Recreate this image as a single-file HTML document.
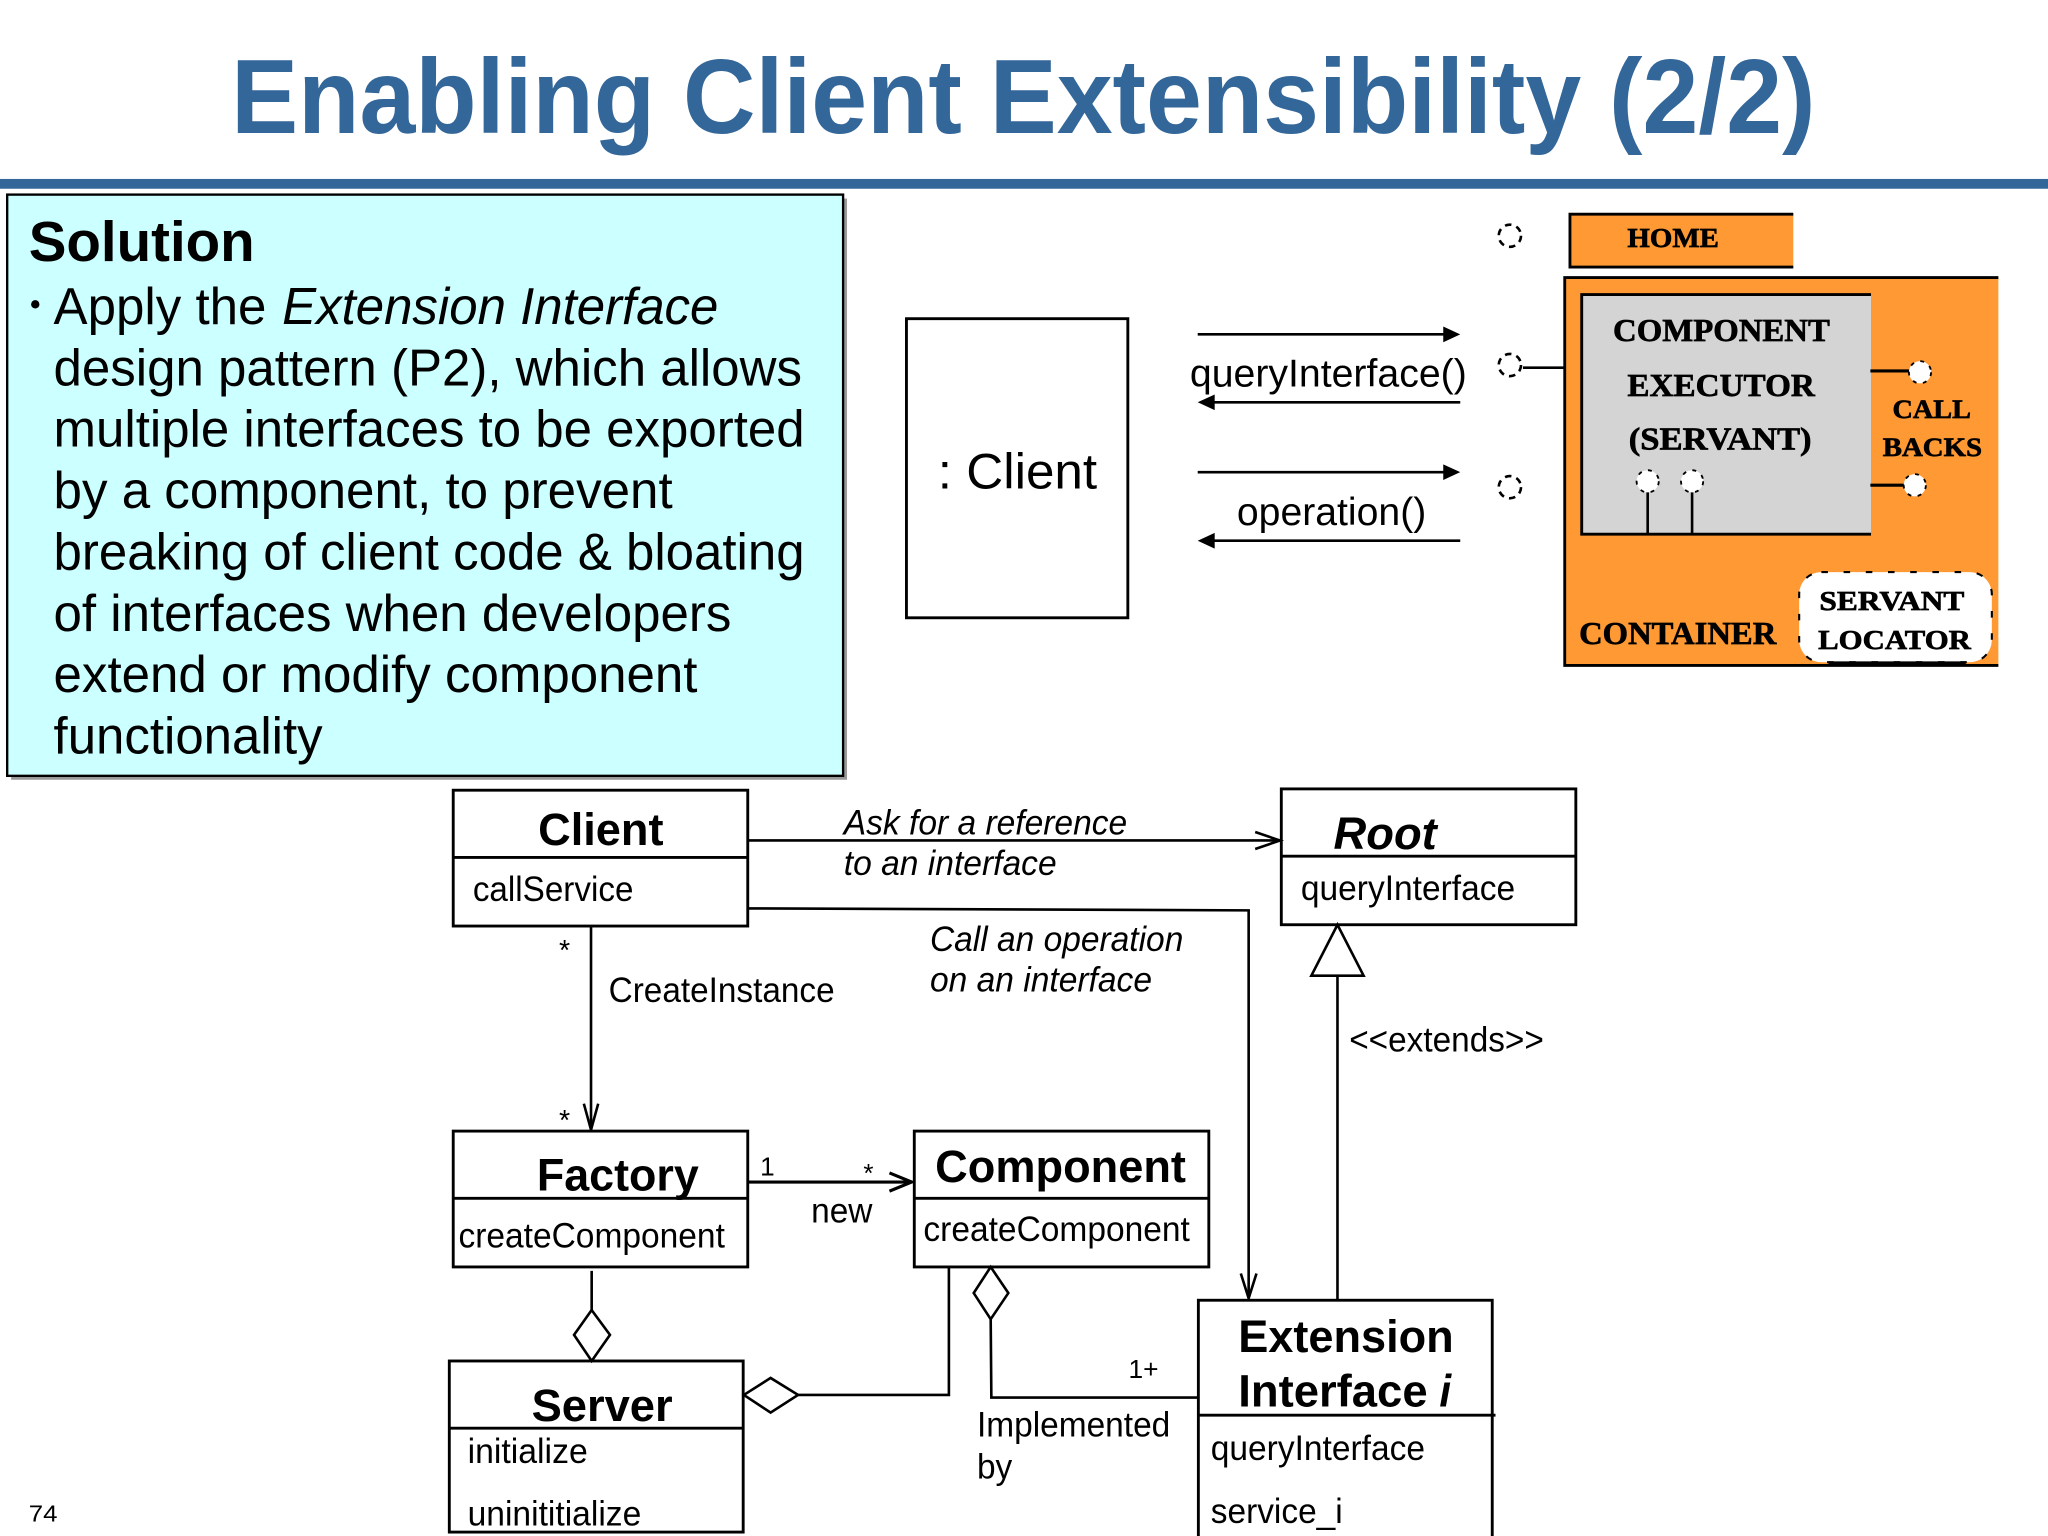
<!DOCTYPE html>
<html>
<head>
<meta charset="utf-8">
<title>Enabling Client Extensibility (2/2)</title>
<style>
html,body{margin:0;padding:0;background:#fff;width:2048px;height:1536px;overflow:hidden}
svg{display:block}
text{font-family:"Liberation Sans",sans-serif;fill:#000}
.b{font-weight:bold}
.i{font-style:italic}
.s{font-family:"Liberation Serif",serif;font-weight:bold;font-size:24px;stroke:#000;stroke-width:.5}
.m{font-size:27px}
.h{font-size:35px;font-weight:bold}
.body{font-size:40px}
.box{fill:#fff;stroke:#000;stroke-width:2.2}
.ln{fill:none;stroke:#000;stroke-width:2}
.open{fill:none;stroke:#000;stroke-width:2}
.dia{fill:#fff;stroke:#000;stroke-width:2}
.dot{fill:#fff;stroke:#000;stroke-width:1.4;stroke-dasharray:3 5}
.dot0{fill:none;stroke:#000;stroke-width:2;stroke-dasharray:5 4}
</style>
</head>
<body>
<svg xmlns="http://www.w3.org/2000/svg" width="2048" height="1536" viewBox="0 0 1568 1176">
<rect width="1568" height="1176" fill="#fff"/>
<!-- Title -->
<text x="177" y="102" font-size="81" class="b" style="fill:#336699" textLength="1213" lengthAdjust="spacingAndGlyphs">Enabling Client Extensibility (2/2)</text>
<rect x="0" y="137" width="1568" height="7.5" fill="#336699"/>

<!-- Solution box -->
<rect x="8.5" y="152" width="640" height="445" fill="#9a9a9a"/>
<rect x="5.5" y="149" width="640" height="445" fill="#ccffff" stroke="#000" stroke-width="1.8"/>
<text x="22" y="200" font-size="43" class="b" textLength="173" lengthAdjust="spacingAndGlyphs">Solution</text>
<circle cx="27" cy="233" r="3.2" fill="#000"/>
<text x="41" y="248" class="body" textLength="163" lengthAdjust="spacingAndGlyphs">Apply the</text>
<text x="216" y="248" class="body i" textLength="334" lengthAdjust="spacingAndGlyphs">Extension Interface</text>
<text x="41" y="295" class="body" textLength="573" lengthAdjust="spacingAndGlyphs">design pattern (P2), which allows</text>
<text x="41" y="342" class="body" textLength="575" lengthAdjust="spacingAndGlyphs">multiple interfaces to be exported</text>
<text x="41" y="389" class="body" textLength="474" lengthAdjust="spacingAndGlyphs">by a component, to prevent</text>
<text x="41" y="436" class="body" textLength="575" lengthAdjust="spacingAndGlyphs">breaking of client code &amp; bloating</text>
<text x="41" y="483" class="body" textLength="519" lengthAdjust="spacingAndGlyphs">of interfaces when developers</text>
<text x="41" y="530" class="body" textLength="493" lengthAdjust="spacingAndGlyphs">extend or modify component</text>
<text x="41" y="577" class="body" textLength="206" lengthAdjust="spacingAndGlyphs">functionality</text>

<!-- : Client -->
<rect x="694" y="244" width="169.500" height="229" class="box"/>
<text x="718" y="374" font-size="38" textLength="122" lengthAdjust="spacingAndGlyphs">: Client</text>

<!-- Sequence arrows -->
<line x1="917" y1="256" x2="1108" y2="256" class="ln"/><polygon points="1118,256 1105,250 1105,262" fill="#000"/>
<text x="911" y="296" font-size="30" textLength="212" lengthAdjust="spacingAndGlyphs">queryInterface()</text>
<line x1="1118" y1="308" x2="927" y2="308" class="ln"/><polygon points="917,308 930,302 930,314" fill="#000"/>
<line x1="917" y1="361.500" x2="1108" y2="361.500" class="ln"/><polygon points="1118,361.500 1105,355.500 1105,367.500" fill="#000"/>
<text x="947" y="402" font-size="30" textLength="145" lengthAdjust="spacingAndGlyphs">operation()</text>
<line x1="1118" y1="414" x2="927" y2="414" class="ln"/><polygon points="917,414 930,408 930,420" fill="#000"/>

<!-- Component figure -->
<rect x="1202" y="164" width="171" height="40.500" fill="#ff9933"/>
<path d="M1373 164H1202V204.500H1373" fill="none" stroke="#000" stroke-width="2.200"/>
<text x="1246" y="189" class="s" style="font-size:21px" textLength="70" lengthAdjust="spacingAndGlyphs">HOME</text>

<rect x="1198" y="212.500" width="332" height="297" fill="#ff9933"/>
<path d="M1530 212.500H1198V509.500H1530" fill="none" stroke="#000" stroke-width="2.200"/>
<rect x="1211" y="225.500" width="221.500" height="184" fill="#d4d4d4"/>
<path d="M1432.500 225.500H1211V409H1432.500" fill="none" stroke="#000" stroke-width="2.200"/>
<text x="1235" y="261" class="s" textLength="166" lengthAdjust="spacingAndGlyphs">COMPONENT</text>
<text x="1246" y="303" class="s" textLength="143.500" lengthAdjust="spacingAndGlyphs">EXECUTOR</text>
<text x="1247" y="344" class="s" textLength="140" lengthAdjust="spacingAndGlyphs">(SERVANT)</text>
<text x="1449" y="320" class="s" style="font-size:20px" textLength="60" lengthAdjust="spacingAndGlyphs">CALL</text>
<text x="1441.500" y="349" class="s" style="font-size:20px" textLength="76" lengthAdjust="spacingAndGlyphs">BACKS</text>
<text x="1209" y="493" class="s" textLength="151" lengthAdjust="spacingAndGlyphs">CONTAINER</text>
<rect x="1377.500" y="438" width="147.500" height="69" rx="17" fill="#fff" stroke="#000" stroke-width="1.600" stroke-dasharray="5 12"/>
<line x1="1400" y1="507.500" x2="1505" y2="507.500" stroke="#000" stroke-width="2.200"/>
<text x="1393" y="467" class="s" style="font-size:21px" textLength="111" lengthAdjust="spacingAndGlyphs">SERVANT</text>
<text x="1392" y="497" class="s" style="font-size:21px" textLength="117" lengthAdjust="spacingAndGlyphs">LOCATOR</text>

<circle cx="1156" cy="180.500" r="8.500" class="dot0"/>
<circle cx="1156" cy="279.500" r="8.500" class="dot0"/>
<circle cx="1156" cy="373" r="8.500" class="dot0"/>
<line x1="1166" y1="281.500" x2="1198" y2="281.500" class="ln"/>
<line x1="1432" y1="284" x2="1463" y2="284" stroke="#000" stroke-width="2.400"/>
<circle cx="1470" cy="285" r="8.500" class="dot"/>
<line x1="1432" y1="371.500" x2="1459" y2="371.500" stroke="#000" stroke-width="2.400"/>
<circle cx="1466" cy="371.500" r="8.500" class="dot"/>
<line x1="1261.500" y1="376" x2="1261.500" y2="409" class="ln"/>
<line x1="1295.500" y1="376" x2="1295.500" y2="409" class="ln"/>
<circle cx="1261.500" cy="368.500" r="8.500" class="dot"/>
<circle cx="1295.500" cy="368.500" r="8.500" class="dot"/>

<!-- UML: Client -->
<rect x="347" y="605" width="225.500" height="104" class="box"/>
<line x1="347" y1="656.500" x2="572.500" y2="656.500" stroke="#000" stroke-width="2.200"/>
<text x="412" y="647" class="h" textLength="96" lengthAdjust="spacingAndGlyphs">Client</text>
<text x="362" y="690" class="m" textLength="123" lengthAdjust="spacingAndGlyphs">callService</text>

<!-- UML: Root -->
<rect x="981" y="604" width="225.500" height="104" class="box"/>
<line x1="981" y1="655.500" x2="1206.500" y2="655.500" stroke="#000" stroke-width="2.200"/>
<text x="1021" y="650" class="h i" textLength="79" lengthAdjust="spacingAndGlyphs">Root</text>
<text x="996" y="689" class="m" textLength="164" lengthAdjust="spacingAndGlyphs">queryInterface</text>

<!-- Client -> Root -->
<line x1="572" y1="643.500" x2="979" y2="643.500" class="ln"/>
<path d="M961 637L980 643.500L961 650" class="open"/>
<text x="646" y="639" class="m i" textLength="217" lengthAdjust="spacingAndGlyphs">Ask for a reference</text>
<text x="646" y="670" class="m i" textLength="163" lengthAdjust="spacingAndGlyphs">to an interface</text>

<!-- Client -> Extension -->
<path d="M572 695.500L956 697V993" class="ln"/>
<path d="M950 975L956 994L962 975" class="open"/>
<text x="712" y="728" class="m i" textLength="194" lengthAdjust="spacingAndGlyphs">Call an operation</text>
<text x="712" y="759" class="m i" textLength="170" lengthAdjust="spacingAndGlyphs">on an interface</text>

<!-- Client -> Factory -->
<line x1="452.500" y1="709" x2="452.500" y2="864" class="ln"/>
<path d="M447 845L452.500 865L458 845" class="open"/>
<text x="428" y="735" font-size="22">*</text>
<text x="428" y="865" font-size="22">*</text>
<text x="466" y="767" class="m" textLength="173" lengthAdjust="spacingAndGlyphs">CreateInstance</text>

<!-- UML: Factory -->
<rect x="347" y="866" width="225.500" height="104" class="box"/>
<line x1="347" y1="917.500" x2="572.500" y2="917.500" stroke="#000" stroke-width="2.200"/>
<text x="411" y="911.500" class="h" textLength="124" lengthAdjust="spacingAndGlyphs">Factory</text>
<text x="351" y="955" class="m" textLength="204" lengthAdjust="spacingAndGlyphs">createComponent</text>

<!-- UML: Component -->
<rect x="700" y="866" width="225.500" height="104" class="box"/>
<line x1="700" y1="917.500" x2="925.500" y2="917.500" stroke="#000" stroke-width="2.200"/>
<text x="716" y="905" class="h" textLength="192" lengthAdjust="spacingAndGlyphs">Component</text>
<text x="707" y="950" class="m" textLength="204" lengthAdjust="spacingAndGlyphs">createComponent</text>

<!-- Factory -> Component -->
<line x1="572" y1="905" x2="696" y2="905" stroke="#000" stroke-width="2.400"/>
<path d="M681 898L698 905L681 912" class="open" style="stroke-width:2.400"/>
<text x="582" y="900" font-size="20">1</text>
<text x="661" y="905" font-size="20">*</text>
<text x="621" y="936" class="m" textLength="47" lengthAdjust="spacingAndGlyphs">new</text>

<!-- UML: Server -->
<rect x="344" y="1042" width="225" height="131" class="box"/>
<line x1="344" y1="1093.500" x2="569" y2="1093.500" stroke="#000" stroke-width="2.200"/>
<text x="407" y="1088" class="h" textLength="108" lengthAdjust="spacingAndGlyphs">Server</text>
<text x="358" y="1120" class="m" textLength="92" lengthAdjust="spacingAndGlyphs">initialize</text>
<text x="358" y="1168" class="m" textLength="133" lengthAdjust="spacingAndGlyphs">uninititialize</text>

<!-- UML: Extension Interface -->
<rect x="917.500" y="995.500" width="225" height="185" class="box"/>
<line x1="917.500" y1="1083.500" x2="1145" y2="1083.500" stroke="#000" stroke-width="2.200"/>
<text x="948" y="1035" class="h" textLength="165" lengthAdjust="spacingAndGlyphs">Extension</text>
<text x="948" y="1077" class="h" textLength="145" lengthAdjust="spacingAndGlyphs">Interface</text>
<text x="1102" y="1077" class="h i" textLength="9" lengthAdjust="spacingAndGlyphs">i</text>
<text x="927" y="1118" class="m" textLength="164" lengthAdjust="spacingAndGlyphs">queryInterface</text>
<text x="927" y="1166" class="m" textLength="101" lengthAdjust="spacingAndGlyphs">service_i</text>

<!-- Factory - Server aggregation -->
<line x1="453" y1="973" x2="453" y2="1003" class="ln"/>
<polygon points="453,1003 439.500,1022 453,1042 467,1022" class="dia"/>

<!-- Component - Server aggregation -->
<polygon points="569.500,1068 590,1055 611,1068 590,1081.500" class="dia"/>
<path d="M611 1068H726.500V970" class="ln"/>

<!-- Component - Extension -->
<polygon points="758.500,970 745.500,990 758.500,1010 772,990" class="dia"/>
<path d="M758.500 1010L759 1070H917" class="ln"/>
<text x="864" y="1055" font-size="20" textLength="23" lengthAdjust="spacingAndGlyphs">1+</text>
<text x="748" y="1100" class="m" textLength="148" lengthAdjust="spacingAndGlyphs">Implemented</text>
<text x="748" y="1132" class="m" textLength="27" lengthAdjust="spacingAndGlyphs">by</text>

<!-- Extends -->
<polygon points="1024,708 1004,747 1044,747" class="dia"/>
<line x1="1024" y1="747" x2="1024" y2="995" class="ln"/>
<text x="1033" y="805" class="m" textLength="149" lengthAdjust="spacingAndGlyphs">&lt;&lt;extends&gt;&gt;</text>

<!-- Page number -->
<text x="22" y="1165" font-size="18" textLength="22" lengthAdjust="spacingAndGlyphs">74</text>
</svg>
</body>
</html>
